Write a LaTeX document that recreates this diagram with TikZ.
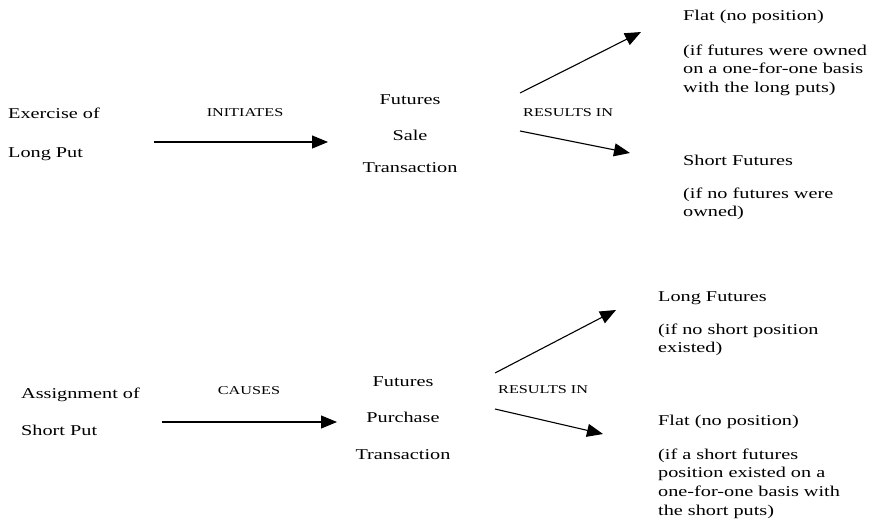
\documentclass[tikz,border=0pt]{standalone}
\usepackage{fontspec}
\setmainfont{Liberation Serif}[FakeStretch=1.35]
\usetikzlibrary{arrows.meta}

\begin{document}
\begin{tikzpicture}[x=1pt,y=-1pt,
    txt/.style={inner sep=0pt,font=\fontsize{15}{18.7}\selectfont},
    tag/.style={inner sep=0pt,font=\fontsize{12}{14}\selectfont},
    note/.style={txt,align=left,anchor=north west},
    arr/.style={line width=1.1pt,-{Triangle[length=16pt,width=13pt]}}]
    \useasboundingbox (0,0) rectangle (873,523);

    % Upper chain: long put
    \node[txt,anchor=base west] (exer1) at (8,118) {Exercise of};
    \node[txt,anchor=base west] (exer2) at (8,157) {Long Put};
    \node[tag,anchor=base] (init) at (245,116) {INITIATES};
    \node[txt,anchor=base] (sale1) at (410,104) {Futures};
    \node[txt,anchor=base] (sale2) at (410,140) {Sale};
    \node[txt,anchor=base] (sale3) at (410,172) {Transaction};
    \node[tag,anchor=base west] (res1) at (523,116) {RESULTS IN};
    \node[txt,anchor=base west] (flat1) at (683,20) {Flat (no position)};
    \node[note] (flat1n) at (683,44.5) {(if futures were owned\\on a one-for-one basis\\with the long puts)};
    \node[txt,anchor=base west] (short1) at (683,165) {Short Futures};
    \node[note] (short1n) at (683,187.5) {(if no futures were\\owned)};

    \coordinate (a1s) at (154,142);
    \coordinate (a1e) at (328,142);
    \coordinate (b1s) at (520,93);
    \coordinate (b1e) at (641,32);
    \coordinate (c1s) at (520,131);
    \coordinate (c1e) at (630,153);
    \draw[arr] (a1s) -- (a1e);
    \draw[arr] (b1s) -- (b1e);
    \draw[arr] (c1s) -- (c1e);

    % Lower chain: short put
    \node[txt,anchor=base west] (asgn1) at (21,398) {Assignment of};
    \node[txt,anchor=base west] (asgn2) at (21,435) {Short Put};
    \node[tag,anchor=base] (cause) at (249,394) {CAUSES};
    \node[txt,anchor=base] (buy1) at (403,386) {Futures};
    \node[txt,anchor=base] (buy2) at (403,422) {Purchase};
    \node[txt,anchor=base] (buy3) at (403,459) {Transaction};
    \node[tag,anchor=base west] (res2) at (498,393) {RESULTS IN};
    \node[txt,anchor=base west] (long2) at (658,301) {Long Futures};
    \node[note] (long2n) at (658,323.5) {(if no short position\\existed)};
    \node[txt,anchor=base west] (flat2) at (658,425) {Flat (no position)};
    \node[note] (flat2n) at (658,448.5) {(if a short futures\\position existed on a\\one-for-one basis with\\the short puts)};

    \coordinate (a2s) at (162,422);
    \coordinate (a2e) at (337,422);
    \coordinate (b2s) at (495,373);
    \coordinate (b2e) at (616,310);
    \coordinate (c2s) at (495,409);
    \coordinate (c2e) at (603,434);
    \draw[arr] (a2s) -- (a2e);
    \draw[arr] (b2s) -- (b2e);
    \draw[arr] (c2s) -- (c2e);
\end{tikzpicture}
\end{document}
